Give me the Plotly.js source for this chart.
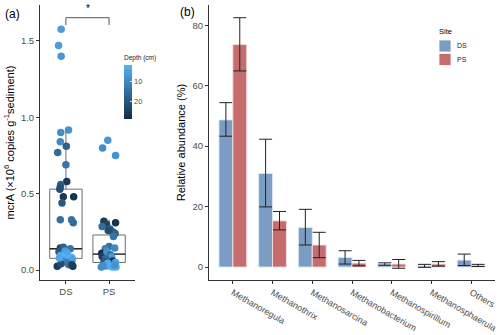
<!DOCTYPE html>
<html><head><meta charset="utf-8">
<script src="https://cdn.plot.ly/plotly-3.0.1.min.js"></script>
<style>html,body{margin:0;padding:0;background:#fff}#chart{width:500px;height:335px}</style>
</head><body><div id="chart"></div>
<script>
// Panel (a): mcrA copies per site, with sampling depth (cm)
const sites = ['DS', 'PS'];
const dsJitter = [-0.11,-0.17,-0.11,0.06,-0.12,-0.13,0.01,-0.19,0,0.02,-0.12,-0.13,-0.14,0.18,-0.06,-0.09,-0.13,0.13,0.17,-0.13,-0.06,0.10,-0.16,-0.02,0.03,-0.12,-0.05,0.05,0.13,0.15,-0.07,0.01,-0.2,-0.12,0.07,0.16,0.14,-0.15];
const dsValue  = [1.576,1.47,1.40,0.917,0.90,0.84,0.81,0.77,0.69,0.58,0.56,0.545,0.53,0.48,0.48,0.44,0.33,0.33,0.31,0.145,0.15,0.14,0.12,0.125,0.11,0.095,0.085,0.08,0.085,0.07,0.06,0.05,0.025,0.04,0.035,0.025,0.035,0.08];
const dsDepth  = [6,6,7,8,9,10,18,16,14,26,18,20,22,27,26,20,15,14,16,24,18,14,20,6,4,3,2,3,2,5,8,12,26,22,14,27,25,4];
const psJitter = [-0.15,-0.03,0.15,-0.12,-0.06,0.15,-0.16,0.02,0.09,0.14,0.10,-0.02,0,-0.09,0.13,-0.17,-0.16,-0.05,0.03,0.06,-0.08,-0.12,0.08,0.15,-0.18,-0.08,-0.01,0.07,0.16,0.12,-0.03,-0.14];
const psValue  = [0.80,0.85,0.75,0.32,0.30,0.31,0.285,0.27,0.25,0.24,0.22,0.26,0.155,0.14,0.145,0.11,0.09,0.12,0.10,0.085,0.075,0.055,0.06,0.05,0.02,0.025,0.03,0.02,0.02,0.035,0.045,0.03];
const psDepth  = [9,7,8,26,24,27,16,18,20,18,14,22,15,12,10,28,25,8,14,6,16,20,26,5,10,4,6,3,4,8,3,9];
// box statistics [DS, PS]
const boxQ1 = [0.077, 0.05];
const boxMedian = [0.14, 0.105];
const boxQ3 = [0.53, 0.23];
const boxLower = [0.02, 0.015];
const boxUpper = [0.917, 0.33];
const sigLevel = '*';

// Panel (b): relative abundance (%)
const genera = ['Methanoregula','Methanothrix','Methanosarcina','Methanobacterium','Methanospirillum','Methanosphaerula','Others'];
const groups = ['DS', 'PS'];
const dsMean = [48.7, 31.0, 13.1, 3.2, 1.0, 0.4, 2.3];
const dsHigh = [54.4, 42.3, 19.1, 5.4, 1.4, 0.9, 4.3];
const dsLow  = [43.3, 19.9, 7.3, 1.0, 0.6, -0.1, 0.5];
const psMean = [73.6, 15.3, 7.3, 1.3, 1.0, 1.0, 0.5];
const psHigh = [82.5, 18.4, 11.5, 2.2, 2.5, 1.8, 0.9];
const psLow  = [64.9, 12.3, 3.1, 0.4, -0.4, 0.3, 0.2];

const FONT = 'Liberation Sans, Arial, sans-serif';
const TICKC = '#4d4d4d';
const AXC = '#333333';
const groupColors = ['#7B9CC3', '#C56C6F'];

const traces = [];
// boxes
sites.forEach((s, i) => {
  traces.push({
    type: 'box', xaxis: 'x', yaxis: 'y', x: [i + 1],
    q1: [boxQ1[i]], median: [boxMedian[i]], q3: [boxQ3[i]],
    lowerfence: [boxLower[i]], upperfence: [boxUpper[i]],
    width: 0.75, whiskerwidth: 0, boxpoints: false,
    fillcolor: 'rgba(255,255,255,0)', line: {color: '#6e6e6e', width: 1},
    showlegend: false, hoverinfo: 'skip'
  });
  traces.push({
    type: 'scatter', mode: 'lines', xaxis: 'x', yaxis: 'y',
    x: [i + 1 - 0.375, i + 1 + 0.375], y: [boxMedian[i], boxMedian[i]],
    line: {color: '#2a2a2a', width: 1.3}, showlegend: false, hoverinfo: 'skip'
  });
});
const cmin = -29, cmax = -1.7;
const allX = dsJitter.map(j => 1 + j).concat(psJitter.map(j => 2 + j));
const allY = dsValue.concat(psValue);
const allC = dsDepth.concat(psDepth).map(d => -d);
traces.push({
  type: 'scatter', mode: 'markers', xaxis: 'x', yaxis: 'y',
  x: allX, y: allY, showlegend: false,
  marker: {
    size: 7.5, color: allC, cmin: cmin, cmax: cmax,
    colorscale: [[0, '#132B43'], [1, '#56B1F7']],
    line: {width: 0},
    colorbar: {
      x: 0.248, xanchor: 'left', y: 0.844, yanchor: 'top', len: 0.2, lenmode: 'fraction',
      thickness: 8, outlinewidth: 0,
      tickvals: [-10, -20], ticktext: ['10', '20'],
      ticks: 'inside', ticklen: 2, tickcolor: 'rgba(255,255,255,0.8)',
      tickfont: {size: 7.5, color: TICKC, family: FONT},
      title: {text: 'Depth (cm)', side: 'top', font: {size: 6.5, color: '#222', family: FONT}},
      xpad: 0, ypad: 0
    }
  }
});
// bars
const errArr = (hi, m) => hi.map((h, i) => h - m[i]);
const errMinus = (lo, m) => lo.map((l, i) => m[i] - l);
traces.push({
  type: 'bar', name: groups[0], xaxis: 'x2', yaxis: 'y2', x: genera, y: dsMean, showlegend: false,
  marker: {color: groupColors[0], line: {color: 'rgba(225,234,245,0.9)', width: 1}},
  error_y: {type: 'data', array: errArr(dsHigh, dsMean), arrayminus: errMinus(dsLow, dsMean), color: '#222', thickness: 1, width: 6.5}
});
traces.push({
  type: 'bar', name: groups[1], xaxis: 'x2', yaxis: 'y2', x: genera, y: psMean, showlegend: false,
  marker: {color: groupColors[1], line: {color: 'rgba(245,225,226,0.9)', width: 1}},
  error_y: {type: 'data', array: errArr(psHigh, psMean), arrayminus: errMinus(psLow, psMean), color: '#222', thickness: 1, width: 6.5}
});

// manual legend (paper coords)
const W = 500, H = 335;
const px = v => v / W, py = v => 1 - v / H;
const legendShapes = groups.map((g, i) => ({
  type: 'rect', xref: 'paper', yref: 'paper',
  x0: px(439), x1: px(451), y0: py(40 + i * 13.5), y1: py(52 + i * 13.5),
  fillcolor: groupColors[i], line: {color: 'rgba(255,255,255,0.8)', width: 1}
}));
const legendTexts = groups.map((g, i) => ({
  text: g, xref: 'paper', yref: 'paper', x: px(455), y: py(46 + i * 13.5),
  xanchor: 'left', yanchor: 'middle', showarrow: false, font: {size: 7, color: '#222'}
}));
legendTexts.push({text: 'Site', xref: 'paper', yref: 'paper', x: px(437), y: py(31.5),
  xanchor: 'left', yanchor: 'middle', showarrow: false, font: {size: 7.5, color: '#000'}});

const yDom = [0.164, 0.985];
const layout = {
  width: 500, height: 335,
  margin: {l: 0, r: 0, t: 0, b: 0},
  paper_bgcolor: '#fff', plot_bgcolor: '#fff',
  font: {family: FONT, color: '#000'},
  barmode: 'group', bargap: 0.3, bargroupgap: 0,
  showlegend: false,
  xaxis: {
    domain: [0.08, 0.27], range: [0.4, 2.6], tickvals: [1, 2], ticktext: sites,
    showline: true, linecolor: AXC, linewidth: 1, ticks: 'outside', ticklen: 3, tickcolor: AXC,
    showgrid: false, zeroline: false, tickfont: {size: 9.5, color: TICKC}, automargin: false
  },
  yaxis: {
    domain: yDom, range: [-0.065, 1.735], tickvals: [0, 0.5, 1, 1.5], ticktext: ['0.0', '0.5', '1.0', '1.5'],
    showline: true, linecolor: AXC, linewidth: 1, ticks: 'outside', ticklen: 3, tickcolor: AXC,
    showgrid: false, zeroline: false, tickfont: {size: 9.5, color: TICKC}, automargin: false,
    title: {text: 'mcrA (×10<sup>6</sup> copies g<sup>-1</sup>sediment)', font: {size: 11, color: '#000'}, standoff: 4}
  },
  xaxis2: {
    domain: [0.418, 0.99], range: [-0.6, 6.6], type: 'category',
    showline: true, linecolor: AXC, linewidth: 1, ticks: 'outside', ticklen: 3, tickcolor: AXC,
    showgrid: false, zeroline: false, tickangle: 30, tickfont: {size: 9, color: TICKC}, automargin: false
  },
  yaxis2: {
    domain: yDom, range: [-4.3, 86.7], tickvals: [0, 20, 40, 60, 80], anchor: 'x2',
    showline: true, linecolor: AXC, linewidth: 1, ticks: 'outside', ticklen: 3, tickcolor: AXC,
    showgrid: false, zeroline: false, tickfont: {size: 9.5, color: TICKC}, automargin: false,
    title: {text: 'Relative abundance (%)', font: {size: 11, color: '#000'}, standoff: 4}
  },
  shapes: [{
    type: 'path', xref: 'x', yref: 'y',
    path: 'M1,1.604 L1,1.652 L2,1.652 L2,1.604',
    line: {color: '#555', width: 1}
  }].concat(legendShapes),
  annotations: [
    {text: sigLevel, xref: 'x', yref: 'y', x: 1.5, y: 1.665, yanchor: 'bottom', showarrow: false, font: {size: 10, color: '#000'}},
    {text: '(a)', xref: 'paper', yref: 'paper', x: 0.006, y: 0.985, xanchor: 'left', yanchor: 'top', showarrow: false, font: {size: 12, color: '#000'}},
    {text: '(b)', xref: 'paper', yref: 'paper', x: 0.355, y: 0.99, xanchor: 'left', yanchor: 'top', showarrow: false, font: {size: 12, color: '#000'}}
  ].concat(legendTexts)
};
Plotly.newPlot('chart', traces, layout, {staticPlot: true, displayModeBar: false});
</script></body></html>
